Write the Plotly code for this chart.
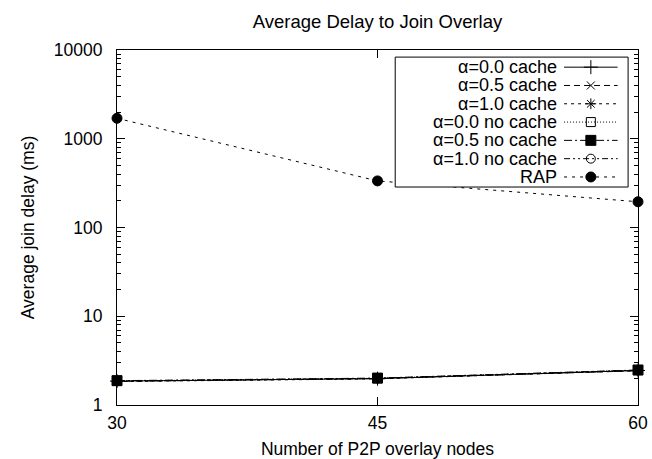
import plotly.graph_objects as go

nodes = [30, 45, 60]
series_names = ["α=0.0 cache", "α=0.5 cache", "α=1.0 cache",
                "α=0.0 no cache", "α=0.5 no cache", "α=1.0 no cache", "RAP"]
a00_cache = [1.86, 1.98, 2.45]
a05_cache = [1.85, 1.99, 2.43]
a10_cache = [1.84, 1.97, 2.44]
a00_nocache = [1.87, 2.00, 2.47]
a05_nocache = [1.88, 2.01, 2.48]
a10_nocache = [1.85, 1.99, 2.46]
rap = [1700, 335, 195]
y_tick_vals = [1, 10, 100, 1000, 10000]
y_tick_text = ["1", "10", "100", "1000", "10000"]

series_values = [a00_cache, a05_cache, a10_cache, a00_nocache, a05_nocache, a10_nocache, rap]
dashes = ["solid", "6px,4px", "3px,4px", "1px,2px", "8px,3px,2px,3px",
          "6px,3px,2px,3px,2px,3px", "3px,5px"]
symbols = ["cross-thin-open", "x-thin-open", "asterisk-open", "square-open",
           "square", "circle-open", "circle"]
sizes = [10, 8, 9, 9, 10, 9, 10]

FONT = "Liberation Sans, Arial, sans-serif"
fig = go.Figure()

for name, vals, d, s, sz in zip(series_names, series_values, dashes, symbols, sizes):
    fig.add_trace(go.Scatter(
        x=nodes, y=vals, mode="lines+markers", name=name, showlegend=False,
        line=dict(color="black", width=1, dash=d),
        marker=dict(symbol=s, size=sz, color="black", line=dict(color="black", width=1)),
        cliponaxis=False))

# manual gnuplot-style legend (text right-aligned, sample on the right)
for i, (name, d, s, sz) in enumerate(zip(series_names, dashes, symbols, sizes)):
    fig.add_trace(go.Scatter(
        x=[0.725, 0.84, 0.955], y=[i, i, i], mode="lines", showlegend=False,
        xaxis="x2", yaxis="y2", hoverinfo="skip",
        line=dict(color="black", width=1, dash=d)))
    fig.add_trace(go.Scatter(
        x=[0.84], y=[i], mode="markers", showlegend=False,
        xaxis="x2", yaxis="y2", hoverinfo="skip",
        marker=dict(symbol=s, size=sz, color="black", line=dict(color="black", width=1))))
    fig.add_annotation(x=0.70, y=i, xref="x2", yref="y2", text=name,
                       showarrow=False, xanchor="right", yanchor="middle", borderpad=0,
                       font=dict(family=FONT, size=18, color="black"))

x0p, x1p, y0p, y1p = 0.534, 0.981, 0.614, 0.980
fig.add_shape(type="rect", xref="paper", yref="paper", x0=x0p, x1=x1p, y0=y0p, y1=y1p,
              line=dict(color="black", width=1), fillcolor="rgba(0,0,0,0)")

fig.update_layout(
    width=652, height=459,
    margin=dict(l=117, r=14, t=50, b=54, autoexpand=False),
    paper_bgcolor="white", plot_bgcolor="white",
    font=dict(family=FONT, size=17, color="black"),
    title=dict(text="Average Delay to Join Overlay", x=0.5, xanchor="center",
               xref="paper", yref="container", y=0.954, yanchor="middle",
               font=dict(family=FONT, size=18.5)),
    xaxis=dict(range=[30, 60], tickvals=nodes, ticktext=[str(n) for n in nodes],
               ticks="inside", ticklen=8, tickcolor="black", showline=True,
               linecolor="black", linewidth=1, mirror="ticks", showgrid=False,
               zeroline=False, tickfont=dict(size=17.5), ticklabelstandoff=2,
               automargin=False,
               title=dict(text="Number of P2P overlay nodes", font=dict(size=17.5), standoff=12)),
    yaxis=dict(type="log", range=[0, 4], tickvals=y_tick_vals, ticktext=y_tick_text,
               ticks="inside", ticklen=8, tickcolor="black", showline=True,
               linecolor="black", linewidth=1, mirror="ticks", showgrid=False,
               zeroline=False, tickfont=dict(size=17.5), ticklabelstandoff=10,
               automargin=False,
               minor=dict(ticks="inside", ticklen=4, tickcolor="black", dtick="D1", showgrid=False),
               title=dict(text="Average join delay (ms)", font=dict(size=17.5), standoff=14)),
    xaxis2=dict(domain=[x0p, x1p], range=[0, 1], visible=False, anchor="y2", fixedrange=True),
    yaxis2=dict(domain=[y0p, y1p], range=[6.55, -0.55], visible=False, anchor="x2", fixedrange=True),
)

fig.write_html("out.html", config={"displayModeBar": False},
               post_script="document.body.style.margin='0';document.body.style.padding='0';")
